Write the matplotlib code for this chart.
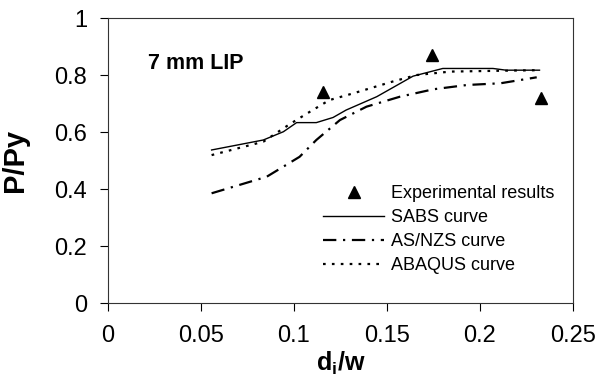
import matplotlib
matplotlib.use("Agg")
import matplotlib.pyplot as plt
from matplotlib.lines import Line2D

plt.rcParams['font.family'] = ['Liberation Sans', 'DejaVu Sans']
plt.rcParams['mathtext.fontset'] = 'custom'
plt.rcParams['mathtext.rm'] = 'Liberation Sans'
plt.rcParams['mathtext.bf'] = 'Liberation Sans:bold'

# data
sabs_x = [0.0557, 0.0835, 0.0943, 0.1014, 0.112, 0.121, 0.128, 0.1445, 0.164, 0.180, 0.207, 0.214, 0.232]
sabs_y = [0.537, 0.572, 0.601, 0.633, 0.633, 0.651, 0.677, 0.724, 0.796, 0.823, 0.823, 0.817, 0.817]

abaqus_x = [0.0557, 0.0835, 0.0978, 0.107, 0.119, 0.132, 0.153, 0.166, 0.184, 0.211, 0.232]
abaqus_y = [0.519, 0.566, 0.628, 0.665, 0.712, 0.736, 0.777, 0.800, 0.812, 0.815, 0.817]

asnzs_x = [0.0557, 0.0853, 0.103, 0.112, 0.1247, 0.139, 0.157, 0.175, 0.193, 0.211, 0.2305]
asnzs_y = [0.385, 0.443, 0.513, 0.572, 0.642, 0.689, 0.724, 0.750, 0.765, 0.771, 0.792]

exp_x = [0.1154, 0.174, 0.2326]
exp_y = [0.740, 0.870, 0.718]

xticks = [0, 0.05, 0.1, 0.15, 0.2, 0.25]
xtick_labels = ['0', '0.05', '0.1', '0.15', '0.2', '0.25']
yticks = [0, 0.2, 0.4, 0.6, 0.8, 1]
ytick_labels = ['0', '0.2', '0.4', '0.6', '0.8', '1']

fig = plt.figure(figsize=(6.01, 3.81), dpi=100)
ax = fig.add_axes([0.1797, 0.2047, 0.7737, 0.748])

ax.plot(sabs_x, sabs_y, color='black', lw=1.0)
ax.plot(asnzs_x, asnzs_y, color='black', lw=1.6, dashes=(6, 3, 1, 3))
ax.plot(abaqus_x, abaqus_y, color='black', lw=1.6, dashes=(1.2, 2.8))
ax.plot(exp_x, exp_y, linestyle='none', marker='^', color='black', markersize=8)

ax.set_xlim(0, 0.25)
ax.set_ylim(0, 1)
ax.set_xticks(xticks)
ax.set_xticklabels(xtick_labels)
ax.set_yticks(yticks)
ax.set_yticklabels(ytick_labels)
ax.tick_params(direction='out', length=6, width=0.8, labelsize=17, pad=10)
ax.tick_params(axis='y', pad=9)
for s in ax.spines.values():
    s.set_linewidth(0.8)
    s.set_color('#333333')

ax.set_xlabel(r'$\mathbf{d_i/w}$', fontsize=18, labelpad=2)
ax.set_ylabel('P/Py', fontsize=21, fontweight='bold', labelpad=18)

ax.text(0.0215, 0.842, '7 mm LIP', fontsize=15.5, fontweight='bold', va='center')

handles = [
    Line2D([], [], linestyle='none', marker='^', color='black', markersize=8),
    Line2D([], [], color='black', lw=1.0),
    Line2D([], [], color='black', lw=1.6, dashes=(6, 3, 1, 3)),
    Line2D([], [], color='black', lw=1.6, dashes=(1.2, 2.8)),
]
labels = ['Experimental results', 'SABS curve', 'AS/NZS curve', 'ABAQUS curve']
ax.legend(handles, labels, loc='upper left', bbox_to_anchor=(0.462, 0.413),
          frameon=False, fontsize=13, borderpad=0, borderaxespad=0,
          handlelength=3.4, handletextpad=0.4, labelspacing=0.38)

fig.savefig('out.png', dpi=100)
